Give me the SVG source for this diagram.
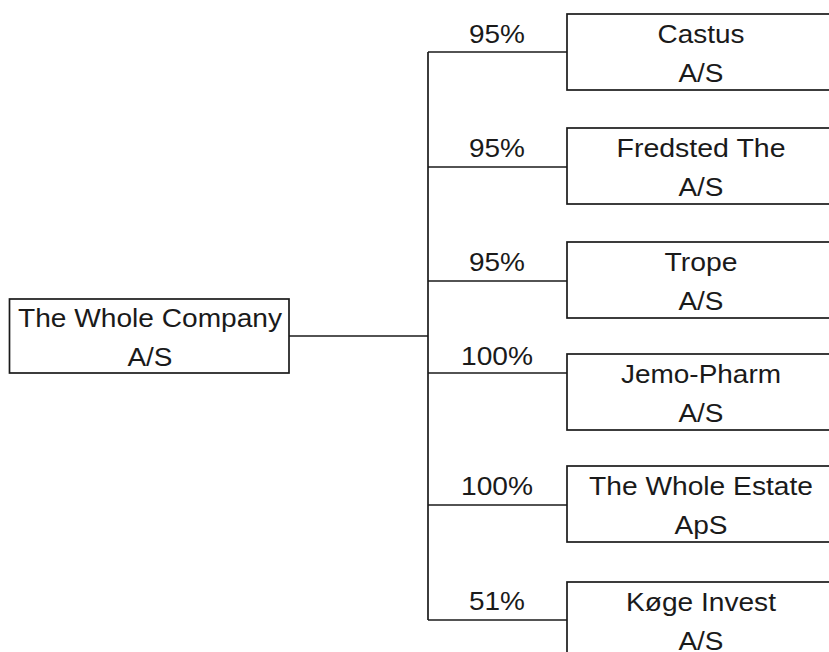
<svg xmlns="http://www.w3.org/2000/svg" width="829" height="652" viewBox="0 0 829 652">
<style>
.box{fill:#fff;stroke:#1a1a1a;stroke-width:1.7}
.ln{fill:none;stroke:#1a1a1a;stroke-width:1.7}
text{font-family:"Liberation Sans",Arial,sans-serif;font-size:25.5px;fill:#1a1a1a;text-anchor:middle}
</style>
<rect width="829" height="652" fill="#fff"/>
<g id="connectors">
<line class="ln" x1="289" y1="336" x2="428" y2="336"/>
<line class="ln" x1="428" y1="52" x2="428" y2="620"/>
<line class="ln" x1="428" y1="52" x2="567" y2="52"/>
<line class="ln" x1="428" y1="167" x2="567" y2="167"/>
<line class="ln" x1="428" y1="281" x2="567" y2="281"/>
<line class="ln" x1="428" y1="373" x2="567" y2="373"/>
<line class="ln" x1="428" y1="505" x2="567" y2="505"/>
<line class="ln" x1="428" y1="620" x2="567" y2="620"/>
<text x="497" y="43" textLength="56" lengthAdjust="spacingAndGlyphs">95%</text>
<text x="497" y="157" textLength="56" lengthAdjust="spacingAndGlyphs">95%</text>
<text x="497" y="271" textLength="56" lengthAdjust="spacingAndGlyphs">95%</text>
<text x="497" y="365" textLength="72" lengthAdjust="spacingAndGlyphs">100%</text>
<text x="497" y="495" textLength="72" lengthAdjust="spacingAndGlyphs">100%</text>
<text x="497" y="610" textLength="56" lengthAdjust="spacingAndGlyphs">51%</text>
</g>
<g id="parent">
<rect class="box" x="9.5" y="299" width="279.5" height="74"/>
<text x="150" y="327" textLength="264" lengthAdjust="spacingAndGlyphs">The Whole Company</text>
<text x="150" y="366" textLength="45" lengthAdjust="spacingAndGlyphs">A/S</text>
</g>
<g id="castus">
<rect class="box" x="567" y="14" width="270" height="76"/>
<text x="701" y="43" textLength="87" lengthAdjust="spacingAndGlyphs">Castus</text>
<text x="701" y="82" textLength="45" lengthAdjust="spacingAndGlyphs">A/S</text>
</g>
<g id="fredsted">
<rect class="box" x="567" y="128" width="270" height="76"/>
<text x="701" y="157" textLength="169" lengthAdjust="spacingAndGlyphs">Fredsted The</text>
<text x="701" y="196" textLength="45" lengthAdjust="spacingAndGlyphs">A/S</text>
</g>
<g id="trope">
<rect class="box" x="567" y="242" width="270" height="76"/>
<text x="701" y="271" textLength="73" lengthAdjust="spacingAndGlyphs">Trope</text>
<text x="701" y="310" textLength="45" lengthAdjust="spacingAndGlyphs">A/S</text>
</g>
<g id="jemo">
<rect class="box" x="567" y="354" width="270" height="76"/>
<text x="701" y="383" textLength="160" lengthAdjust="spacingAndGlyphs">Jemo-Pharm</text>
<text x="701" y="422" textLength="45" lengthAdjust="spacingAndGlyphs">A/S</text>
</g>
<g id="estate">
<rect class="box" x="567" y="466" width="270" height="76"/>
<text x="701" y="495" textLength="224" lengthAdjust="spacingAndGlyphs">The Whole Estate</text>
<text x="701" y="534" textLength="53" lengthAdjust="spacingAndGlyphs">ApS</text>
</g>
<g id="koge">
<rect class="box" x="567" y="582" width="270" height="76"/>
<text x="701" y="611" textLength="150" lengthAdjust="spacingAndGlyphs">Køge Invest</text>
<text x="701" y="650" textLength="45" lengthAdjust="spacingAndGlyphs">A/S</text>
</g>
</svg>
